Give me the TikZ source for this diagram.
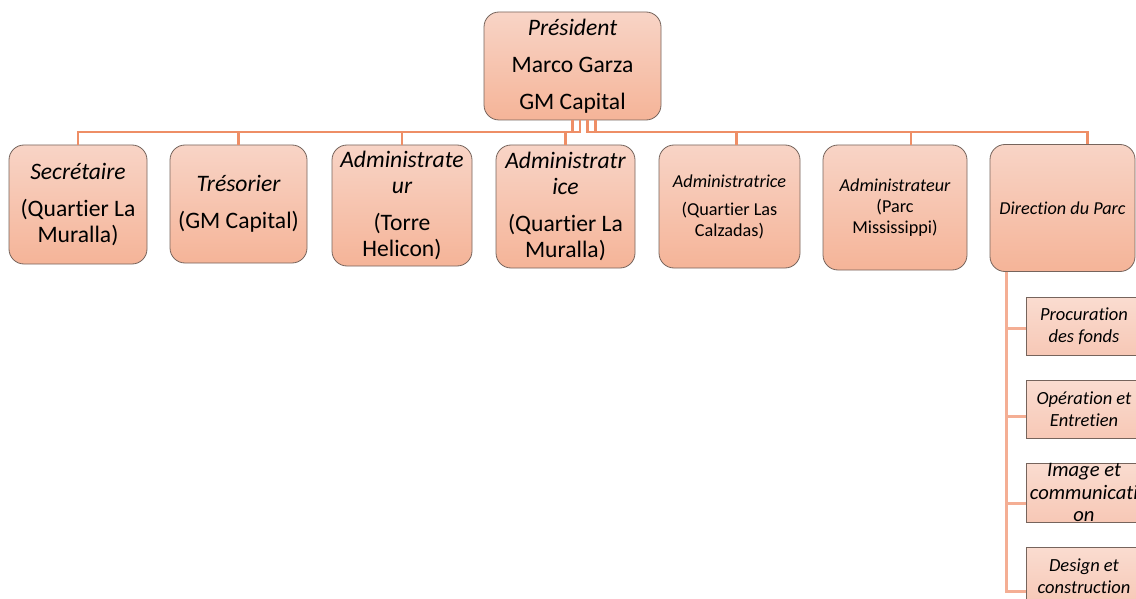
\documentclass[tikz,border=0pt]{standalone}
\usepackage{fontspec}
\setmainfont[Ligatures=NoCommon]{Carlito}
\definecolor{boxtop}{RGB}{248,212,198}
\definecolor{boxbot}{RGB}{245,180,152}
\definecolor{boxline}{RGB}{118,100,92}
\definecolor{conncol}{RGB}{238,142,102}
\definecolor{subconncol}{RGB}{244,174,148}
\definecolor{subtop}{RGB}{250,220,208}
\definecolor{subbot}{RGB}{247,200,182}
\begin{document}
\begin{tikzpicture}[x=1pt,y=-1pt,
  mainbox/.style={draw=boxline, line width=0.8pt, rounded corners=15pt,
    top color=boxtop, bottom color=boxbot, align=center, inner sep=0pt,
    font=\fontsize{23.6}{26.5}\selectfont},
  smallbox/.style={mainbox, font=\fontsize{18.2}{21}\selectfont},
  subbox/.style={draw=boxline, line width=0.8pt, top color=subtop, bottom color=subbot,
    align=center, inner sep=0pt, minimum width=116pt,
    font=\fontsize{18.5}{22}\selectfont\itshape},
  conn/.style={draw=conncol, line width=2.8pt},
  subconn/.style={draw=subconncol, line width=3pt}]
\clip (0,0) rectangle (1136,599);
\fill[white] (0,0) rectangle (1136,599);
\coordinate (bus) at (0,132);

\node[mainbox, minimum width=177pt, minimum height=108pt] (pres) at (572.5,66)
  {\itshape Président\\[10.5pt]Marco Garza\\[10.5pt]GM Capital};
\node[mainbox, minimum width=138pt, minimum height=119pt] (sec) at (78,204.5)
  {\itshape Secrétaire\\[10.5pt](Quartier La\\Muralla)};
\node[mainbox, minimum width=137pt, minimum height=118pt] (tres) at (238.5,204)
  {\itshape Trésorier\\[10pt](GM Capital)};
\node[mainbox, minimum width=140pt, minimum height=121pt] (adm1) at (402,205.5)
  {\itshape Administrate\\\itshape ur\\[10pt](Torre\\Helicon)};
\node[mainbox, minimum width=139pt, minimum height=123pt] (adm2) at (565.5,206.5)
  {\itshape Administratr\\\itshape ice\\[10pt](Quartier La\\Muralla)};
\node[smallbox, minimum width=141pt, minimum height=123pt] (adm3) at (729.5,206.5)
  {\itshape Administratrice\\[7pt](Quartier Las\\Calzadas)};
\node[smallbox, minimum width=144pt, minimum height=125pt] (adm4) at (895,207.5)
  {\itshape Administrateur\\(Parc\\Mississippi)};
\node[smallbox, minimum width=145pt, minimum height=127pt] (dir) at (1062.5,208)
  {\itshape Direction du Parc};

\node[subbox, minimum height=58pt] (sub1) at (1084,326)
  {Procuration\\\itshape des fonds};
\node[subbox, minimum height=58pt] (sub2) at (1084,409.5)
  {Opération et\\\itshape Entretien};
\node[subbox, minimum height=59pt, font=\fontsize{20.6}{22.5}\selectfont\itshape] (sub3) at (1084,492.5)
  {Image et\\\itshape communicati\\\itshape on};
\node[subbox, minimum height=58pt] (sub4) at (1084,576)
  {Design et\\\itshape construction};

\draw[conn] (pres.south) |- (bus -| sec.north) -- (sec.north);
\draw[conn] (pres.south) |- (bus -| tres.north) -- (tres.north);
\draw[conn] ([xshift=7.5pt]pres.south) |- (bus -| adm1.north) -- (adm1.north);
\draw[conn] ([xshift=7.5pt]pres.south) |- (bus -| adm2.north) -- (adm2.north);
\draw[conn] ([xshift=15pt]pres.south) |- (bus -| adm3.north) -| ([xshift=7pt]adm3.north);
\draw[conn] ([xshift=23pt]pres.south) |- (bus -| adm4.north) -| ([xshift=16pt]adm4.north);
\draw[conn] ([xshift=23pt]pres.south) |- (bus -| dir.north) -| ([xshift=25pt]dir.north);

\draw[subconn] ([xshift=-56.5pt]dir.south) |- ([yshift=-2pt]sub1.west);
\draw[subconn] ([xshift=-56.5pt]dir.south) |- ([yshift=-6.5pt]sub2.west);
\draw[subconn] ([xshift=-56.5pt]dir.south) |- ([yshift=-10.5pt]sub3.west);
\draw[subconn] ([xshift=-56.5pt]dir.south) |- ([yshift=-15pt]sub4.west);
\end{tikzpicture}
\end{document}
